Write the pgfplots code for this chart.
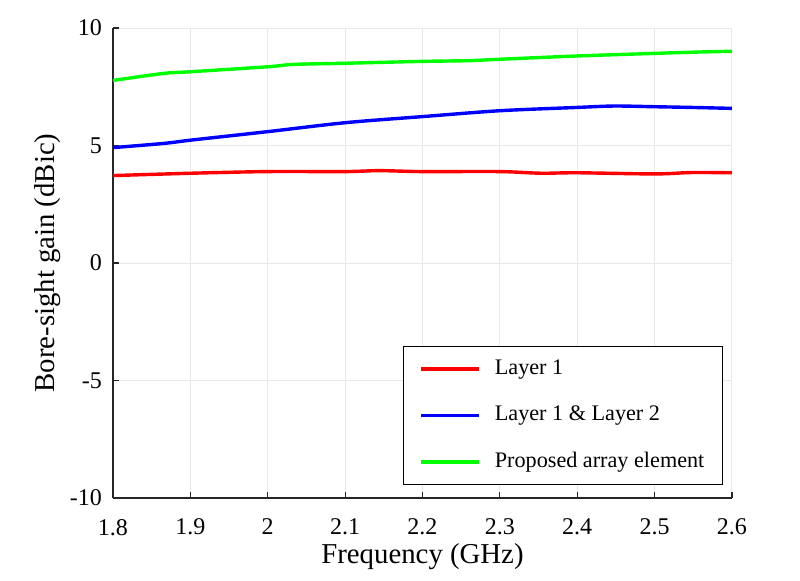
\documentclass[border=0pt]{standalone}
\usepackage{fontspec}
\setmainfont{Liberation Serif}
\usepackage{pgfplots}
\pgfplotsset{compat=1.18}
\definecolor{axisgray}{RGB}{38,38,38}
\definecolor{gridgray}{RGB}{232,232,232}

\begin{document}
\begin{tikzpicture}
\path[use as bounding box] (-56.5pt,-41pt) rectangle (343.5pt,249pt);
\begin{axis}[
  at={(0,0)}, anchor=south west,
  scale only axis, width=309.5pt, height=235pt,
  xmin=1.8, xmax=2.6, ymin=-10, ymax=10,
  xtick={1.8,1.9,2,2.1,2.2,2.3,2.4,2.5,2.6},
  ytick={-10,-5,0,5,10},
  axis lines=left,
  axis line style={-, color=axisgray, line width=0.6pt},
  tick align=inside, major tick length=3pt,
  tick style={color=axisgray, line width=0.6pt},
  grid=major, grid style={color=gridgray, line width=0.5pt},
  /pgf/number format/assume math mode=true,
  ticklabel style={font=\fontsize{12}{14}\selectfont, text=black},
  xticklabel style={yshift=-7pt},
  yticklabel style={xshift=-2pt},
  xlabel={Frequency (GHz)},
  ylabel={Bore-sight gain (dBic)},
  label style={font=\fontsize{14.4}{16}\selectfont},
  xlabel style={at={(axis description cs:0.5,-0.140)}, anchor=base},
  ylabel style={at={(axis description cs:-0.094,0.5)}, anchor=base},
  legend cell align=left,
  legend style={at={(axis description cs:0.9855,0.0277)}, anchor=south east,
    draw=black, line width=0.6pt, fill=white,
    font=\fontsize{11.1}{13}\selectfont,
    nodes={inner sep=1pt, text height=8pt, text depth=2.5pt},
    row sep=10.75pt, column sep=6pt,
    inner xsep=8pt, inner ysep=5pt},
  legend image code/.code={\draw[#1] (0pt,0pt) -- (29pt,0pt);},
  every axis plot/.append style={line width=1.7pt, smooth},
]
\addplot[red] coordinates {
  (1.800,3.72) (1.901,3.82) (2.000,3.89) (2.100,3.89) (2.144,3.93)
  (2.200,3.89) (2.300,3.89) (2.353,3.82) (2.400,3.84) (2.500,3.79)
  (2.548,3.85) (2.600,3.84)};
\addlegendentry{Layer 1}
\addplot[blue] coordinates {
  (1.800,4.91) (1.866,5.09) (1.901,5.23) (2.000,5.59) (2.100,5.97)
  (2.200,6.23) (2.300,6.48) (2.400,6.62) (2.448,6.68) (2.500,6.65)
  (2.548,6.62) (2.600,6.58)};
\addlegendentry{Layer 1 \& Layer 2}
\addplot[green] coordinates {
  (1.800,7.77) (1.866,8.07) (1.901,8.14) (2.000,8.35) (2.033,8.45)
  (2.100,8.50) (2.200,8.58) (2.259,8.61) (2.300,8.67) (2.400,8.81)
  (2.500,8.92) (2.548,8.97) (2.600,9.01)};
\addlegendentry{Proposed array element}
\end{axis}
\end{tikzpicture}
\end{document}
